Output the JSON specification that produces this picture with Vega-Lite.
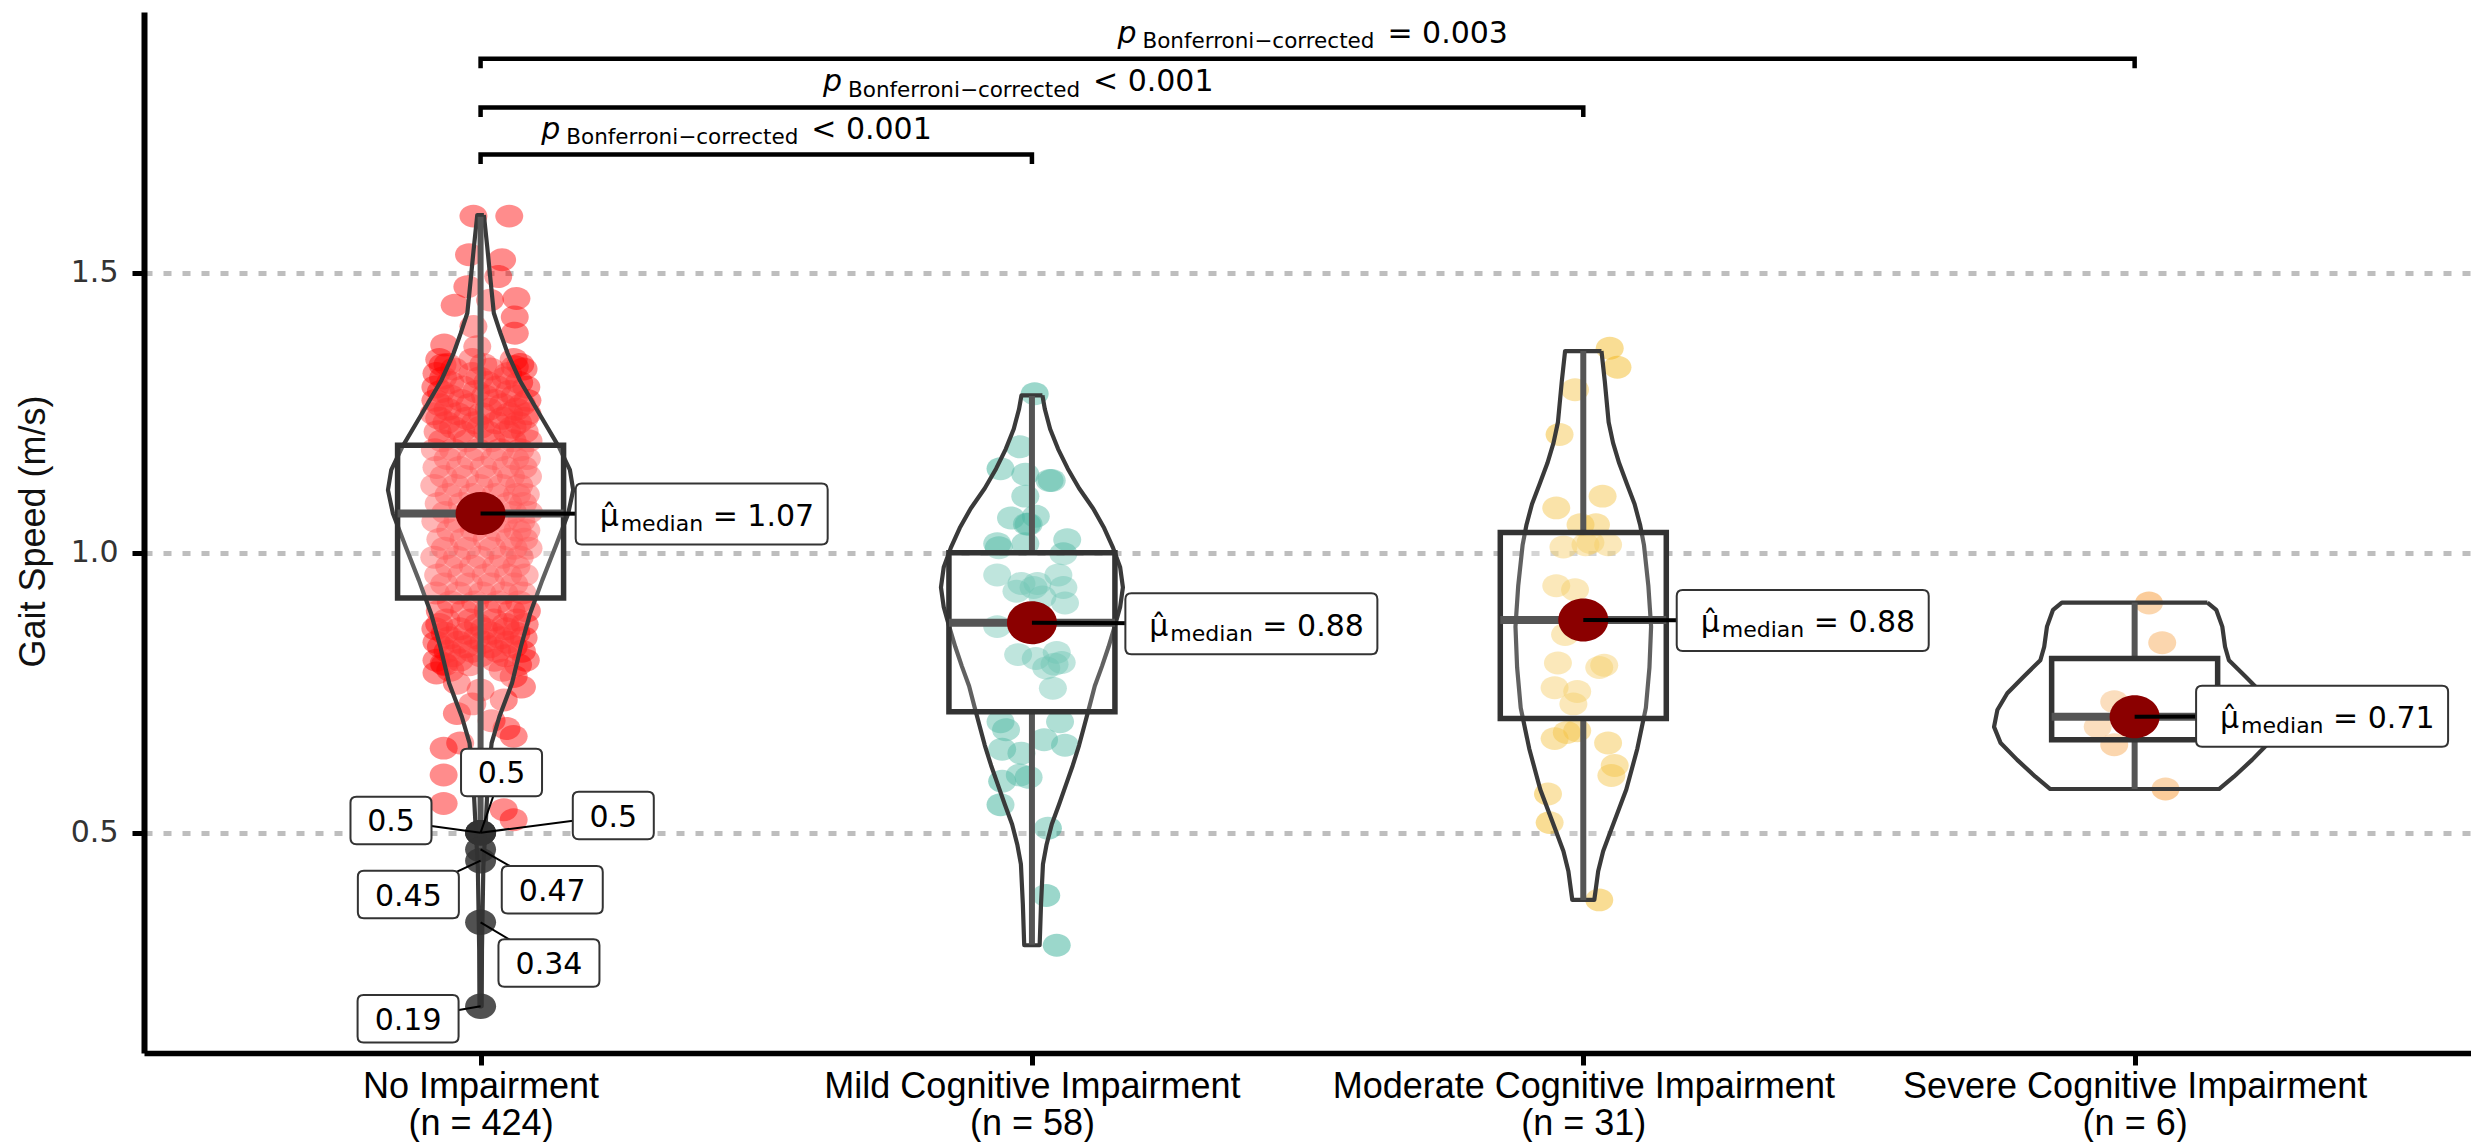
{
  "$schema": "https://vega.github.io/schema/vega-lite/v6.json",
  "width": 2327,
  "height": 1041,
  "autosize": {"type": "none"},
  "padding": {"left": 144, "top": 12, "right": 0, "bottom": 89},
  "background": "white",
  "config": {"view": {"stroke": null}, "font": "DejaVu Sans"},
  "datasets": {
    "pts": [
      {"g":1,"x":0.925,"y":1.345},{"g":1,"x":0.985,"y":1.345},{"g":1,"x":1.060,"y":1.345},
      {"g":1,"x":0.952,"y":1.328},{"g":1,"x":1.018,"y":1.328},{"g":1,"x":1.078,"y":1.328},
      {"g":1,"x":0.932,"y":1.312},{"g":1,"x":0.998,"y":1.312},{"g":1,"x":1.045,"y":1.312},
      {"g":1,"x":0.918,"y":1.296},{"g":1,"x":0.968,"y":1.296},{"g":1,"x":1.030,"y":1.296},{"g":1,"x":1.083,"y":1.296},
      {"g":1,"x":0.945,"y":1.280},{"g":1,"x":1.008,"y":1.280},{"g":1,"x":1.062,"y":1.280},
      {"g":1,"x":0.926,"y":1.264},{"g":1,"x":0.980,"y":1.264},{"g":1,"x":1.040,"y":1.264},{"g":1,"x":1.075,"y":1.264},
      {"g":1,"x":0.915,"y":1.248},{"g":1,"x":0.958,"y":1.248},{"g":1,"x":1.002,"y":1.248},{"g":1,"x":1.052,"y":1.248},{"g":1,"x":1.085,"y":1.248},
      {"g":1,"x":0.938,"y":1.232},{"g":1,"x":0.990,"y":1.232},{"g":1,"x":1.028,"y":1.232},{"g":1,"x":1.068,"y":1.232},
      {"g":1,"x":0.922,"y":1.216},{"g":1,"x":0.965,"y":1.216},{"g":1,"x":1.012,"y":1.216},{"g":1,"x":1.048,"y":1.216},{"g":1,"x":1.080,"y":1.216},
      {"g":1,"x":0.930,"y":1.200},{"g":1,"x":0.975,"y":1.200},{"g":1,"x":1.020,"y":1.200},{"g":1,"x":1.058,"y":1.200},{"g":1,"x":1.087,"y":1.200},
      {"g":1,"x":0.917,"y":1.184},{"g":1,"x":0.950,"y":1.184},{"g":1,"x":0.995,"y":1.184},{"g":1,"x":1.035,"y":1.184},{"g":1,"x":1.072,"y":1.184},
      {"g":1,"x":0.940,"y":1.168},{"g":1,"x":0.982,"y":1.168},{"g":1,"x":1.025,"y":1.168},{"g":1,"x":1.063,"y":1.168},{"g":1,"x":1.084,"y":1.168},
      {"g":1,"x":0.920,"y":1.152},{"g":1,"x":0.962,"y":1.152},{"g":1,"x":1.005,"y":1.152},{"g":1,"x":1.046,"y":1.152},{"g":1,"x":1.078,"y":1.152},
      {"g":1,"x":0.933,"y":1.136},{"g":1,"x":0.972,"y":1.136},{"g":1,"x":1.015,"y":1.136},{"g":1,"x":1.055,"y":1.136},{"g":1,"x":1.086,"y":1.136},
      {"g":1,"x":0.916,"y":1.120},{"g":1,"x":0.955,"y":1.120},{"g":1,"x":0.998,"y":1.120},{"g":1,"x":1.038,"y":1.120},{"g":1,"x":1.070,"y":1.120},
      {"g":1,"x":0.942,"y":1.104},{"g":1,"x":0.985,"y":1.104},{"g":1,"x":1.027,"y":1.104},{"g":1,"x":1.066,"y":1.104},{"g":1,"x":1.082,"y":1.104},
      {"g":1,"x":0.924,"y":1.088},{"g":1,"x":0.966,"y":1.088},{"g":1,"x":1.008,"y":1.088},{"g":1,"x":1.050,"y":1.088},{"g":1,"x":1.077,"y":1.088},
      {"g":1,"x":0.936,"y":1.072},{"g":1,"x":0.978,"y":1.072},{"g":1,"x":1.018,"y":1.072},{"g":1,"x":1.059,"y":1.072},{"g":1,"x":1.088,"y":1.072},
      {"g":1,"x":0.918,"y":1.056},{"g":1,"x":0.958,"y":1.056},{"g":1,"x":1.001,"y":1.056},{"g":1,"x":1.042,"y":1.056},{"g":1,"x":1.074,"y":1.056},
      {"g":1,"x":0.945,"y":1.040},{"g":1,"x":0.988,"y":1.040},{"g":1,"x":1.030,"y":1.040},{"g":1,"x":1.067,"y":1.040},{"g":1,"x":1.083,"y":1.040},
      {"g":1,"x":0.927,"y":1.024},{"g":1,"x":0.969,"y":1.024},{"g":1,"x":1.011,"y":1.024},{"g":1,"x":1.052,"y":1.024},{"g":1,"x":1.079,"y":1.024},
      {"g":1,"x":0.935,"y":1.008},{"g":1,"x":0.976,"y":1.008},{"g":1,"x":1.021,"y":1.008},{"g":1,"x":1.060,"y":1.008},{"g":1,"x":1.087,"y":1.008},
      {"g":1,"x":0.916,"y":0.992},{"g":1,"x":0.957,"y":0.992},{"g":1,"x":0.999,"y":0.992},{"g":1,"x":1.040,"y":0.992},{"g":1,"x":1.071,"y":0.992},
      {"g":1,"x":0.943,"y":0.976},{"g":1,"x":0.986,"y":0.976},{"g":1,"x":1.028,"y":0.976},{"g":1,"x":1.065,"y":0.976},
      {"g":1,"x":0.923,"y":0.960},{"g":1,"x":0.965,"y":0.960},{"g":1,"x":1.009,"y":0.960},{"g":1,"x":1.050,"y":0.960},{"g":1,"x":1.080,"y":0.960},
      {"g":1,"x":0.934,"y":0.944},{"g":1,"x":0.979,"y":0.944},{"g":1,"x":1.019,"y":0.944},{"g":1,"x":1.061,"y":0.944},
      {"g":1,"x":0.919,"y":0.928},{"g":1,"x":0.960,"y":0.928},{"g":1,"x":1.003,"y":0.928},{"g":1,"x":1.043,"y":0.928},{"g":1,"x":1.076,"y":0.928},
      {"g":1,"x":0.946,"y":0.912},{"g":1,"x":0.990,"y":0.912},{"g":1,"x":1.032,"y":0.912},{"g":1,"x":1.070,"y":0.912},
      {"g":1,"x":0.926,"y":0.896},{"g":1,"x":0.970,"y":0.896},{"g":1,"x":1.013,"y":0.896},{"g":1,"x":1.056,"y":0.896},{"g":1,"x":1.084,"y":0.896},
      {"g":1,"x":0.938,"y":0.880},{"g":1,"x":0.982,"y":0.880},{"g":1,"x":1.024,"y":0.880},{"g":1,"x":1.066,"y":0.880},
      {"g":1,"x":0.918,"y":0.864},{"g":1,"x":0.962,"y":0.864},{"g":1,"x":1.006,"y":0.864},{"g":1,"x":1.047,"y":0.864},
      {"g":1,"x":0.944,"y":0.848},{"g":1,"x":0.993,"y":0.848},{"g":1,"x":1.036,"y":0.848},{"g":1,"x":1.078,"y":0.848},
      {"g":1,"x":0.928,"y":0.832},{"g":1,"x":0.973,"y":0.832},{"g":1,"x":1.017,"y":0.832},{"g":1,"x":1.060,"y":0.832},
      {"g":1,"x":0.950,"y":0.816},{"g":1,"x":1.000,"y":0.816},{"g":1,"x":1.045,"y":0.816},
      {"g":1,"x":0.935,"y":0.800},{"g":1,"x":0.980,"y":0.800},{"g":1,"x":1.068,"y":0.800},
      {"g":1,"x":0.940,"y":1.336},{"g":1,"x":1.005,"y":1.336},{"g":1,"x":1.072,"y":1.336},
      {"g":1,"x":0.920,"y":1.320},{"g":1,"x":0.985,"y":1.320},{"g":1,"x":1.050,"y":1.320},
      {"g":1,"x":0.945,"y":1.304},{"g":1,"x":1.012,"y":1.304},{"g":1,"x":1.070,"y":1.304},
      {"g":1,"x":0.928,"y":1.288},{"g":1,"x":0.992,"y":1.288},{"g":1,"x":1.052,"y":1.288},
      {"g":1,"x":0.918,"y":1.272},{"g":1,"x":0.965,"y":1.272},{"g":1,"x":1.025,"y":1.272},{"g":1,"x":1.085,"y":1.272},
      {"g":1,"x":0.940,"y":1.256},{"g":1,"x":1.015,"y":1.256},{"g":1,"x":1.065,"y":1.256},
      {"g":1,"x":0.925,"y":1.240},{"g":1,"x":0.975,"y":1.240},{"g":1,"x":1.040,"y":1.240},{"g":1,"x":1.080,"y":1.240},
      {"g":1,"x":0.950,"y":1.224},{"g":1,"x":1.000,"y":1.224},{"g":1,"x":1.058,"y":1.224},
      {"g":1,"x":0.925,"y":0.872},{"g":1,"x":0.995,"y":0.872},{"g":1,"x":1.045,"y":0.872},{"g":1,"x":1.080,"y":0.872},
      {"g":1,"x":0.935,"y":0.856},{"g":1,"x":0.975,"y":0.856},{"g":1,"x":1.020,"y":0.856},{"g":1,"x":1.065,"y":0.856},
      {"g":1,"x":0.920,"y":0.840},{"g":1,"x":0.960,"y":0.840},{"g":1,"x":1.005,"y":0.840},{"g":1,"x":1.050,"y":0.840},
      {"g":1,"x":0.940,"y":0.824},{"g":1,"x":0.985,"y":0.824},{"g":1,"x":1.030,"y":0.824},{"g":1,"x":1.075,"y":0.824},
      {"g":1,"x":0.920,"y":0.808},{"g":1,"x":0.962,"y":0.808},{"g":1,"x":1.025,"y":0.808},{"g":1,"x":1.082,"y":0.808},
      {"g":1,"x":0.945,"y":0.790},{"g":1,"x":1.040,"y":0.790},
      {"g":1,"x":0.987,"y":1.601},{"g":1,"x":1.052,"y":1.601},{"g":1,"x":0.979,"y":1.532},{"g":1,"x":1.039,"y":1.523},
      {"g":1,"x":0.976,"y":1.475},{"g":1,"x":1.032,"y":1.493},{"g":1,"x":0.953,"y":1.442},{"g":1,"x":1.017,"y":1.451},
      {"g":1,"x":1.065,"y":1.454},{"g":1,"x":1.062,"y":1.421},{"g":1,"x":1.062,"y":1.392},{"g":1,"x":0.934,"y":1.371},
      {"g":1,"x":0.987,"y":1.404},{"g":1,"x":0.931,"y":1.335},{"g":1,"x":1.062,"y":1.332},{"g":1,"x":0.994,"y":1.368},
      {"g":1,"x":0.933,"y":0.802},{"g":1,"x":0.957,"y":0.713},{"g":1,"x":1.060,"y":0.672},{"g":1,"x":0.933,"y":0.651},
      {"g":1,"x":0.963,"y":0.660},{"g":1,"x":0.933,"y":0.603},{"g":1,"x":0.933,"y":0.552},{"g":1,"x":1.042,"y":0.541},
      {"g":1,"x":1.060,"y":0.523},{"g":1,"x":1.047,"y":0.686},{"g":1,"x":1.042,"y":0.737},{"g":1,"x":1.000,"y":0.755},
      {"g":1,"x":1.060,"y":0.779},{"g":1,"x":0.957,"y":0.767},{"g":1,"x":0.920,"y":0.785},{"g":1,"x":1.075,"y":0.760},
      {"g":1,"x":0.985,"y":0.730},{"g":1,"x":1.020,"y":0.700},
      {"g":2,"x":2.005,"y":1.284},{"g":2,"x":1.978,"y":1.189},{"g":2,"x":1.943,"y":1.150},{"g":2,"x":1.988,"y":1.140},
      {"g":2,"x":2.036,"y":1.129},{"g":2,"x":1.988,"y":1.101},{"g":2,"x":1.962,"y":1.062},{"g":2,"x":1.991,"y":1.051},
      {"g":2,"x":2.064,"y":1.023},{"g":2,"x":1.940,"y":1.009},{"g":2,"x":1.988,"y":1.016},{"g":2,"x":2.057,"y":0.998},
      {"g":2,"x":1.937,"y":0.960},{"g":2,"x":2.048,"y":0.960},{"g":2,"x":1.972,"y":0.931},{"g":2,"x":2.003,"y":0.938},
      {"g":2,"x":2.057,"y":0.938},{"g":2,"x":2.019,"y":0.921},{"g":2,"x":2.060,"y":0.910},{"g":2,"x":1.937,"y":0.868},
      {"g":2,"x":1.975,"y":0.818},{"g":2,"x":2.007,"y":0.811},{"g":2,"x":2.041,"y":0.801},{"g":2,"x":2.026,"y":0.794},
      {"g":2,"x":2.038,"y":0.758},{"g":2,"x":1.943,"y":0.698},{"g":2,"x":2.051,"y":0.698},{"g":2,"x":2.022,"y":0.666},
      {"g":2,"x":1.946,"y":0.649},{"g":2,"x":2.060,"y":0.656},{"g":2,"x":1.981,"y":0.642},{"g":2,"x":1.946,"y":0.592},
      {"g":2,"x":1.994,"y":0.599},{"g":2,"x":1.943,"y":0.550},{"g":2,"x":2.029,"y":0.508},{"g":2,"x":2.026,"y":0.388},
      {"g":2,"x":2.045,"y":0.299},{"g":2,"x":1.994,"y":1.051},{"g":2,"x":2.054,"y":0.804},{"g":2,"x":1.953,"y":0.684},
      {"g":2,"x":1.978,"y":0.603},{"g":2,"x":2.010,"y":0.945},{"g":2,"x":1.981,"y":0.945},{"g":2,"x":1.937,"y":1.016},
      {"g":2,"x":2.032,"y":1.129},{"g":2,"x":2.045,"y":0.822},{"g":2,"x":2.007,"y":1.065},
      {"g":3,"x":3.048,"y":1.365},{"g":3,"x":3.062,"y":1.331},{"g":3,"x":2.985,"y":1.291},{"g":3,"x":2.957,"y":1.211},
      {"g":3,"x":3.035,"y":1.101},{"g":3,"x":2.951,"y":1.080},{"g":3,"x":2.995,"y":1.050},{"g":3,"x":3.023,"y":1.050},
      {"g":3,"x":2.964,"y":1.010},{"g":3,"x":3.013,"y":1.018},{"g":3,"x":3.045,"y":1.014},{"g":3,"x":2.951,"y":0.941},
      {"g":3,"x":2.985,"y":0.934},{"g":3,"x":2.967,"y":0.854},{"g":3,"x":2.954,"y":0.803},{"g":3,"x":3.029,"y":0.795},
      {"g":3,"x":2.948,"y":0.759},{"g":3,"x":2.989,"y":0.752},{"g":3,"x":2.982,"y":0.730},{"g":3,"x":2.970,"y":0.679},
      {"g":3,"x":2.948,"y":0.668},{"g":3,"x":3.045,"y":0.660},{"g":3,"x":3.057,"y":0.620},{"g":3,"x":3.051,"y":0.602},
      {"g":3,"x":2.936,"y":0.569},{"g":3,"x":2.939,"y":0.518},{"g":3,"x":3.029,"y":0.380},{"g":3,"x":3.004,"y":1.014},
      {"g":3,"x":3.038,"y":0.799},{"g":3,"x":2.989,"y":0.682},
      {"g":4,"x":4.026,"y":0.910},{"g":4,"x":4.050,"y":0.839},{"g":4,"x":3.963,"y":0.734},{"g":4,"x":3.933,"y":0.689},
      {"g":4,"x":3.963,"y":0.657},{"g":4,"x":4.056,"y":0.578}
    ],
    "violin": [
      {"g":1,"o":1,"x":1.006,"y":1.603},{"g":1,"o":2,"x":1.012,"y":1.547},{"g":1,"o":3,"x":1.018,"y":1.487},{"g":1,"o":4,"x":1.024,"y":1.428},
      {"g":1,"o":5,"x":1.036,"y":1.392},{"g":1,"o":6,"x":1.049,"y":1.356},{"g":1,"o":7,"x":1.071,"y":1.308},{"g":1,"o":8,"x":1.106,"y":1.249},
      {"g":1,"o":9,"x":1.142,"y":1.189},{"g":1,"o":10,"x":1.162,"y":1.148},{"g":1,"o":11,"x":1.168,"y":1.112},{"g":1,"o":12,"x":1.159,"y":1.070},
      {"g":1,"o":13,"x":1.136,"y":1.011},{"g":1,"o":14,"x":1.112,"y":0.951},{"g":1,"o":15,"x":1.090,"y":0.892},{"g":1,"o":16,"x":1.073,"y":0.832},
      {"g":1,"o":17,"x":1.057,"y":0.767},{"g":1,"o":18,"x":1.034,"y":0.707},{"g":1,"o":19,"x":1.020,"y":0.660},{"g":1,"o":20,"x":1.013,"y":0.588},
      {"g":1,"o":21,"x":1.010,"y":0.529},{"g":1,"o":22,"x":1.005,"y":0.439},{"g":1,"o":23,"x":1.0025,"y":0.290},{"g":1,"o":24,"x":1.002,"y":0.190},
      {"g":1,"o":25,"x":0.998,"y":0.190},{"g":1,"o":26,"x":0.9975,"y":0.290},{"g":1,"o":27,"x":0.995,"y":0.439},{"g":1,"o":28,"x":0.990,"y":0.529},
      {"g":1,"o":29,"x":0.987,"y":0.588},{"g":1,"o":30,"x":0.980,"y":0.660},{"g":1,"o":31,"x":0.966,"y":0.707},{"g":1,"o":32,"x":0.943,"y":0.767},
      {"g":1,"o":33,"x":0.927,"y":0.832},{"g":1,"o":34,"x":0.910,"y":0.892},{"g":1,"o":35,"x":0.888,"y":0.951},{"g":1,"o":36,"x":0.864,"y":1.011},
      {"g":1,"o":37,"x":0.841,"y":1.070},{"g":1,"o":38,"x":0.832,"y":1.112},{"g":1,"o":39,"x":0.838,"y":1.148},{"g":1,"o":40,"x":0.858,"y":1.189},
      {"g":1,"o":41,"x":0.894,"y":1.249},{"g":1,"o":42,"x":0.929,"y":1.308},{"g":1,"o":43,"x":0.951,"y":1.356},{"g":1,"o":44,"x":0.964,"y":1.392},
      {"g":1,"o":45,"x":0.976,"y":1.428},{"g":1,"o":46,"x":0.982,"y":1.487},{"g":1,"o":47,"x":0.988,"y":1.547},{"g":1,"o":48,"x":0.994,"y":1.603},
      {"g":1,"o":49,"x":1.006,"y":1.603},
      {"g":2,"o":1,"x":2.019,"y":1.281},{"g":2,"o":2,"x":2.0235,"y":1.256},{"g":2,"o":3,"x":2.033,"y":1.221},{"g":2,"o":4,"x":2.0475,"y":1.185},
      {"g":2,"o":5,"x":2.065,"y":1.150},{"g":2,"o":6,"x":2.0855,"y":1.115},{"g":2,"o":7,"x":2.111,"y":1.079},{"g":2,"o":8,"x":2.131,"y":1.044},
      {"g":2,"o":9,"x":2.147,"y":1.009},{"g":2,"o":10,"x":2.160,"y":0.974},{"g":2,"o":11,"x":2.165,"y":0.938},{"g":2,"o":12,"x":2.160,"y":0.903},
      {"g":2,"o":13,"x":2.150,"y":0.868},{"g":2,"o":14,"x":2.139,"y":0.832},{"g":2,"o":15,"x":2.127,"y":0.797},{"g":2,"o":16,"x":2.114,"y":0.762},
      {"g":2,"o":17,"x":2.1045,"y":0.726},{"g":2,"o":18,"x":2.095,"y":0.691},{"g":2,"o":19,"x":2.0855,"y":0.656},{"g":2,"o":20,"x":2.074,"y":0.620},
      {"g":2,"o":21,"x":2.0615,"y":0.585},{"g":2,"o":22,"x":2.049,"y":0.550},{"g":2,"o":23,"x":2.036,"y":0.515},{"g":2,"o":24,"x":2.0266,"y":0.479},
      {"g":2,"o":25,"x":2.020,"y":0.444},{"g":2,"o":26,"x":2.0165,"y":0.373},{"g":2,"o":27,"x":2.014,"y":0.299},
      {"g":2,"o":28,"x":1.986,"y":0.299},{"g":2,"o":29,"x":1.9835,"y":0.373},{"g":2,"o":30,"x":1.980,"y":0.444},{"g":2,"o":31,"x":1.9734,"y":0.479},
      {"g":2,"o":32,"x":1.964,"y":0.515},{"g":2,"o":33,"x":1.951,"y":0.550},{"g":2,"o":34,"x":1.9385,"y":0.585},{"g":2,"o":35,"x":1.926,"y":0.620},
      {"g":2,"o":36,"x":1.9145,"y":0.656},{"g":2,"o":37,"x":1.905,"y":0.691},{"g":2,"o":38,"x":1.8955,"y":0.726},{"g":2,"o":39,"x":1.886,"y":0.762},
      {"g":2,"o":40,"x":1.873,"y":0.797},{"g":2,"o":41,"x":1.861,"y":0.832},{"g":2,"o":42,"x":1.850,"y":0.868},{"g":2,"o":43,"x":1.840,"y":0.903},
      {"g":2,"o":44,"x":1.835,"y":0.938},{"g":2,"o":45,"x":1.840,"y":0.974},{"g":2,"o":46,"x":1.853,"y":1.009},{"g":2,"o":47,"x":1.869,"y":1.044},
      {"g":2,"o":48,"x":1.889,"y":1.079},{"g":2,"o":49,"x":1.9145,"y":1.115},{"g":2,"o":50,"x":1.935,"y":1.150},{"g":2,"o":51,"x":1.9525,"y":1.185},
      {"g":2,"o":52,"x":1.967,"y":1.221},{"g":2,"o":53,"x":1.9765,"y":1.256},{"g":2,"o":54,"x":1.981,"y":1.281},{"g":2,"o":55,"x":2.019,"y":1.281},
      {"g":3,"o":1,"x":3.033,"y":1.360},{"g":3,"o":2,"x":3.039,"y":1.306},{"g":3,"o":3,"x":3.046,"y":1.233},{"g":3,"o":4,"x":3.054,"y":1.196},
      {"g":3,"o":5,"x":3.065,"y":1.160},{"g":3,"o":6,"x":3.079,"y":1.123},{"g":3,"o":7,"x":3.093,"y":1.087},{"g":3,"o":8,"x":3.103,"y":1.050},
      {"g":3,"o":9,"x":3.110,"y":1.014},{"g":3,"o":10,"x":3.118,"y":0.941},{"g":3,"o":11,"x":3.123,"y":0.868},{"g":3,"o":12,"x":3.120,"y":0.795},
      {"g":3,"o":13,"x":3.1135,"y":0.723},{"g":3,"o":14,"x":3.098,"y":0.650},{"g":3,"o":15,"x":3.078,"y":0.577},{"g":3,"o":16,"x":3.050,"y":0.504},
      {"g":3,"o":17,"x":3.036,"y":0.467},{"g":3,"o":18,"x":3.027,"y":0.431},{"g":3,"o":19,"x":3.020,"y":0.380},
      {"g":3,"o":20,"x":2.980,"y":0.380},{"g":3,"o":21,"x":2.973,"y":0.431},{"g":3,"o":22,"x":2.964,"y":0.467},{"g":3,"o":23,"x":2.950,"y":0.504},
      {"g":3,"o":24,"x":2.922,"y":0.577},{"g":3,"o":25,"x":2.902,"y":0.650},{"g":3,"o":26,"x":2.8865,"y":0.723},{"g":3,"o":27,"x":2.880,"y":0.795},
      {"g":3,"o":28,"x":2.877,"y":0.868},{"g":3,"o":29,"x":2.882,"y":0.941},{"g":3,"o":30,"x":2.890,"y":1.014},{"g":3,"o":31,"x":2.897,"y":1.050},
      {"g":3,"o":32,"x":2.907,"y":1.087},{"g":3,"o":33,"x":2.921,"y":1.123},{"g":3,"o":34,"x":2.935,"y":1.160},{"g":3,"o":35,"x":2.946,"y":1.196},
      {"g":3,"o":36,"x":2.954,"y":1.233},{"g":3,"o":37,"x":2.961,"y":1.306},{"g":3,"o":38,"x":2.967,"y":1.360},{"g":3,"o":39,"x":3.033,"y":1.360},
      {"g":4,"o":1,"x":4.132,"y":0.911},{"g":4,"o":2,"x":4.148,"y":0.898},{"g":4,"o":3,"x":4.159,"y":0.868},{"g":4,"o":4,"x":4.164,"y":0.832},
      {"g":4,"o":5,"x":4.171,"y":0.808},{"g":4,"o":6,"x":4.201,"y":0.779},{"g":4,"o":7,"x":4.231,"y":0.749},{"g":4,"o":8,"x":4.249,"y":0.719},
      {"g":4,"o":9,"x":4.255,"y":0.689},{"g":4,"o":10,"x":4.243,"y":0.660},{"g":4,"o":11,"x":4.213,"y":0.630},{"g":4,"o":12,"x":4.180,"y":0.600},
      {"g":4,"o":13,"x":4.153,"y":0.578},
      {"g":4,"o":14,"x":3.847,"y":0.578},{"g":4,"o":15,"x":3.820,"y":0.600},{"g":4,"o":16,"x":3.787,"y":0.630},{"g":4,"o":17,"x":3.757,"y":0.660},
      {"g":4,"o":18,"x":3.745,"y":0.689},{"g":4,"o":19,"x":3.751,"y":0.719},{"g":4,"o":20,"x":3.769,"y":0.749},{"g":4,"o":21,"x":3.799,"y":0.779},
      {"g":4,"o":22,"x":3.829,"y":0.808},{"g":4,"o":23,"x":3.836,"y":0.832},{"g":4,"o":24,"x":3.841,"y":0.868},{"g":4,"o":25,"x":3.852,"y":0.898},
      {"g":4,"o":26,"x":3.868,"y":0.911},{"g":4,"o":27,"x":4.132,"y":0.911}
    ],
    "box": [
      {"g":1,"lower":0.52,"q1":0.919,"med":1.07,"q3":1.192,"upper":1.60},
      {"g":2,"lower":0.30,"q1":0.716,"med":0.875,"q3":1.000,"upper":1.28},
      {"g":3,"lower":0.38,"q1":0.704,"med":0.88,"q3":1.036,"upper":1.36},
      {"g":4,"lower":0.578,"q1":0.666,"med":0.707,"q3":0.811,"upper":0.911}
    ],
    "out": [
      {"g":1,"y":0.50,"lx":1.038,"ly":0.6075,"lab":"0.5"},
      {"g":1,"y":0.50,"lx":0.8375,"ly":0.5218,"lab":"0.5"},
      {"g":1,"y":0.50,"lx":1.2407,"ly":0.5307,"lab":"0.5"},
      {"g":1,"y":0.45,"lx":0.869,"ly":0.3896,"lab":"0.45"},
      {"g":1,"y":0.47,"lx":1.130,"ly":0.398,"lab":"0.47"},
      {"g":1,"y":0.34,"lx":1.124,"ly":0.2673,"lab":"0.34"},
      {"g":1,"y":0.19,"lx":0.8685,"ly":0.1677,"lab":"0.19"}
    ],
    "med": [
      {"g":1,"med":1.07,"lx":1.401,"ly":1.069,"val":"= 1.07"},
      {"g":2,"med":0.875,"lx":2.398,"ly":0.873,"val":"= 0.88"},
      {"g":3,"med":0.88,"lx":3.398,"ly":0.879,"val":"= 0.88"},
      {"g":4,"med":0.707,"lx":4.340,"ly":0.708,"val":"= 0.71"}
    ],
    "brk": [
      {"b":1,"o":1,"x":1,"y":1.694},{"b":1,"o":2,"x":1,"y":1.711},{"b":1,"o":3,"x":2,"y":1.711},{"b":1,"o":4,"x":2,"y":1.694},
      {"b":2,"o":1,"x":1,"y":1.778},{"b":2,"o":2,"x":1,"y":1.795},{"b":2,"o":3,"x":3,"y":1.795},{"b":2,"o":4,"x":3,"y":1.778},
      {"b":3,"o":1,"x":1,"y":1.865},{"b":3,"o":2,"x":1,"y":1.882},{"b":3,"o":3,"x":4,"y":1.882},{"b":3,"o":4,"x":4,"y":1.865}
    ],
    "bt": [
      {"tx":1.110,"y":1.711,"rest":"< 0.001"},
      {"tx":1.621,"y":1.795,"rest":"< 0.001"},
      {"tx":2.155,"y":1.882,"rest":"= 0.003"}
    ]
  },
  "layer": [
    {
      "data": {"name": "pts"},
      "mark": {"type": "point", "filled": true, "shape": "M1,0C1,0.453,0.552,0.82,0,0.82C-0.552,0.82,-1,0.453,-1,0C-1,-0.453,-0.552,-0.82,0,-0.82C0.552,-0.82,1,-0.453,1,0Z", "size": 784, "opacity": 0.45, "strokeWidth": 0},
      "encoding": {
        "x": {"field": "x", "type": "quantitative", "scale": {"domain": [0.3986, 4.601], "nice": false, "zero": false},
          "axis": {"values": [1, 2, 3, 4], "title": null, "grid": false,
            "labelExpr": "datum.value == 1 ? ['No Impairment', '(n = 424)'] : datum.value == 2 ? ['Mild Cognitive Impairment', '(n = 58)'] : datum.value == 3 ? ['Moderate Cognitive Impairment', '(n = 31)'] : ['Severe Cognitive Impairment', '(n = 6)']",
            "labelFont": "Liberation Sans", "labelFontSize": 36, "labelColor": "#000000", "labelLineHeight": 37, "labelLimit": 0,
            "labelBaseline": "alphabetic", "labelPadding": 32, "labelAngle": 0, "labelFlush": false, "labelOverlap": false, "labelBound": false,
            "tickSize": 12, "tickWidth": 5, "tickColor": "#000000", "domainColor": "#000000", "domainWidth": 5.5}},
        "y": {"field": "y", "type": "quantitative", "scale": {"domain": [0.1066, 1.9655], "nice": false, "zero": false},
          "axis": {"values": [0.5, 1.0, 1.5], "format": ".1f", "title": "Gait Speed (m/s)",
            "grid": true, "gridColor": "#BEBEBE", "gridDash": [8, 11], "gridWidth": 5,
            "labelFont": "DejaVu Sans", "labelFontSize": 30, "labelColor": "#333333", "labelPadding": 14,
            "tickSize": 12, "tickWidth": 5, "tickColor": "#000000", "domainColor": "#000000", "domainWidth": 6,
            "titleFont": "Liberation Sans", "titleFontSize": 36, "titleFontWeight": "normal", "titleColor": "#111111",
            "titleX": -100, "titleY": 519, "titleAngle": -90, "titleAlign": "center", "titleBaseline": "alphabetic"}},
        "color": {"field": "g", "type": "nominal", "scale": {"domain": [1, 2, 3, 4], "range": ["#FF0000", "#21A78C", "#F2B411", "#F78E1E"]}, "legend": null}
      }
    },
    {
      "data": {"name": "violin"},
      "mark": {"type": "line", "interpolate": "linear", "fill": "white", "fillOpacity": 0.2, "stroke": "#3a3a3a", "strokeWidth": 4.2, "strokeJoin": "round", "opacity": 1},
      "encoding": {
        "x": {"field": "x", "type": "quantitative", "scale": {"domain": [0.3986, 4.601], "nice": false, "zero": false}},
        "y": {"field": "y", "type": "quantitative", "scale": {"domain": [0.1066, 1.9655], "nice": false, "zero": false}},
        "detail": {"field": "g"},
        "order": {"field": "o", "type": "quantitative"}
      }
    },
    {
      "data": {"name": "box"},
      "mark": {"type": "rule", "color": "#555555", "strokeWidth": 6},
      "encoding": {
        "x": {"field": "g", "type": "quantitative", "scale": {"domain": [0.3986, 4.601], "nice": false, "zero": false}},
        "y": {"field": "q3", "type": "quantitative", "scale": {"domain": [0.1066, 1.9655], "nice": false, "zero": false}},
        "y2": {"field": "upper"}
      }
    },
    {
      "data": {"name": "box"},
      "mark": {"type": "rule", "color": "#555555", "strokeWidth": 6},
      "encoding": {
        "x": {"field": "g", "type": "quantitative", "scale": {"domain": [0.3986, 4.601], "nice": false, "zero": false}},
        "y": {"field": "lower", "type": "quantitative", "scale": {"domain": [0.1066, 1.9655], "nice": false, "zero": false}},
        "y2": {"field": "q1"}
      }
    },
    {
      "data": {"name": "box"},
      "mark": {"type": "bar", "width": 166, "fill": "white", "fillOpacity": 0.2, "stroke": "#333333", "strokeWidth": 5.5, "opacity": 1},
      "encoding": {
        "x": {"field": "g", "type": "quantitative", "scale": {"domain": [0.3986, 4.601], "nice": false, "zero": false}},
        "y": {"field": "q1", "type": "quantitative", "scale": {"domain": [0.1066, 1.9655], "nice": false, "zero": false}},
        "y2": {"field": "q3"}
      }
    },
    {
      "data": {"name": "box"},
      "mark": {"type": "tick", "orient": "horizontal", "size": 166, "thickness": 8, "color": "#555555", "opacity": 1},
      "encoding": {
        "x": {"field": "g", "type": "quantitative", "scale": {"domain": [0.3986, 4.601], "nice": false, "zero": false}},
        "y": {"field": "med", "type": "quantitative", "scale": {"domain": [0.1066, 1.9655], "nice": false, "zero": false}}
      }
    },
    {
      "data": {"name": "out"},
      "mark": {"type": "point", "filled": true, "shape": "M1,0C1,0.453,0.552,0.82,0,0.82C-0.552,0.82,-1,0.453,-1,0C-1,-0.453,-0.552,-0.82,0,-0.82C0.552,-0.82,1,-0.453,1,0Z", "size": 961, "color": "#333333", "opacity": 0.85, "strokeWidth": 0},
      "encoding": {
        "x": {"field": "g", "type": "quantitative", "scale": {"domain": [0.3986, 4.601], "nice": false, "zero": false}},
        "y": {"field": "y", "type": "quantitative", "scale": {"domain": [0.1066, 1.9655], "nice": false, "zero": false}}
      }
    },
    {
      "data": {"name": "out"},
      "mark": {"type": "rule", "color": "#000000", "strokeWidth": 2},
      "encoding": {
        "x": {"field": "g", "type": "quantitative", "scale": {"domain": [0.3986, 4.601], "nice": false, "zero": false}},
        "y": {"field": "y", "type": "quantitative", "scale": {"domain": [0.1066, 1.9655], "nice": false, "zero": false}},
        "x2": {"field": "lx"},
        "y2": {"field": "ly"}
      }
    },
    {
      "data": {"name": "out"},
      "mark": {"type": "point", "filled": true, "fill": "white", "stroke": "#333333", "strokeWidth": 2, "opacity": 1, "fillOpacity": 1},
      "encoding": {
        "x": {"field": "lx", "type": "quantitative", "scale": {"domain": [0.3986, 4.601], "nice": false, "zero": false}},
        "y": {"field": "ly", "type": "quantitative", "scale": {"domain": [0.1066, 1.9655], "nice": false, "zero": false}},
        "shape": {"condition": {"test": "length(datum.lab) <= 3", "value": "M-0.852,-0.586H0.852Q1,-0.586,1,-0.438V0.438Q1,0.586,0.852,0.586H-0.852Q-1,0.586,-1,0.438V-0.438Q-1,-0.586,-0.852,-0.586Z"}, "value": "M-0.881,-0.47H0.881Q1,-0.47,1,-0.351V0.351Q1,0.47,0.881,0.47H-0.881Q-1,0.47,-1,0.351V-0.351Q-1,-0.47,-0.881,-0.47Z"},
        "size": {"condition": {"test": "length(datum.lab) <= 3", "value": 6561}, "value": 10201}
      }
    },
    {
      "data": {"name": "out"},
      "mark": {"type": "text", "font": "DejaVu Sans", "fontSize": 30, "align": "center", "baseline": "alphabetic", "dy": 11, "color": "#000000"},
      "encoding": {
        "x": {"field": "lx", "type": "quantitative", "scale": {"domain": [0.3986, 4.601], "nice": false, "zero": false}},
        "y": {"field": "ly", "type": "quantitative", "scale": {"domain": [0.1066, 1.9655], "nice": false, "zero": false}},
        "text": {"field": "lab"}
      }
    },
    {
      "data": {"name": "med"},
      "mark": {"type": "point", "filled": true, "shape": "M1,0C1,0.475,0.552,0.86,0,0.86C-0.552,0.86,-1,0.475,-1,0C-1,-0.475,-0.552,-0.86,0,-0.86C0.552,-0.86,1,-0.475,1,0Z", "size": 2500, "color": "#8B0000", "opacity": 1, "strokeWidth": 0},
      "encoding": {
        "x": {"field": "g", "type": "quantitative", "scale": {"domain": [0.3986, 4.601], "nice": false, "zero": false}},
        "y": {"field": "med", "type": "quantitative", "scale": {"domain": [0.1066, 1.9655], "nice": false, "zero": false}}
      }
    },
    {
      "data": {"name": "med"},
      "mark": {"type": "rule", "color": "#000000", "strokeWidth": 4},
      "encoding": {
        "x": {"field": "g", "type": "quantitative", "scale": {"domain": [0.3986, 4.601], "nice": false, "zero": false}},
        "y": {"field": "med", "type": "quantitative", "scale": {"domain": [0.1066, 1.9655], "nice": false, "zero": false}},
        "x2": {"field": "lx"},
        "y2": {"field": "ly"}
      }
    },
    {
      "data": {"name": "med"},
      "mark": {"type": "point", "filled": true, "fill": "white", "stroke": "#333333", "strokeWidth": 2, "opacity": 1, "fillOpacity": 1, "size": 63504, "shape": "M-0.952,-0.242H0.952Q1,-0.242,1,-0.194V0.194Q1,0.242,0.952,0.242H-0.952Q-1,0.242,-1,0.194V-0.194Q-1,-0.242,-0.952,-0.242Z"},
      "encoding": {
        "x": {"field": "lx", "type": "quantitative", "scale": {"domain": [0.3986, 4.601], "nice": false, "zero": false}},
        "y": {"field": "ly", "type": "quantitative", "scale": {"domain": [0.1066, 1.9655], "nice": false, "zero": false}}
      }
    },
    {
      "data": {"name": "med"},
      "mark": {"type": "text", "font": "DejaVu Sans", "fontSize": 30, "align": "left", "baseline": "alphabetic", "dx": -102, "dy": 12, "color": "#000000"},
      "encoding": {
        "x": {"field": "lx", "type": "quantitative", "scale": {"domain": [0.3986, 4.601], "nice": false, "zero": false}},
        "y": {"field": "ly", "type": "quantitative", "scale": {"domain": [0.1066, 1.9655], "nice": false, "zero": false}},
        "text": {"value": "μ̂"}
      }
    },
    {
      "data": {"name": "med"},
      "mark": {"type": "text", "font": "DejaVu Sans", "fontSize": 22, "align": "left", "baseline": "alphabetic", "dx": -81, "dy": 17, "color": "#000000"},
      "encoding": {
        "x": {"field": "lx", "type": "quantitative", "scale": {"domain": [0.3986, 4.601], "nice": false, "zero": false}},
        "y": {"field": "ly", "type": "quantitative", "scale": {"domain": [0.1066, 1.9655], "nice": false, "zero": false}},
        "text": {"value": "median"}
      }
    },
    {
      "data": {"name": "med"},
      "mark": {"type": "text", "font": "DejaVu Sans", "fontSize": 30, "align": "left", "baseline": "alphabetic", "dx": 11, "dy": 12, "color": "#000000"},
      "encoding": {
        "x": {"field": "lx", "type": "quantitative", "scale": {"domain": [0.3986, 4.601], "nice": false, "zero": false}},
        "y": {"field": "ly", "type": "quantitative", "scale": {"domain": [0.1066, 1.9655], "nice": false, "zero": false}},
        "text": {"field": "val"}
      }
    },
    {
      "data": {"name": "brk"},
      "mark": {"type": "line", "color": "#000000", "strokeWidth": 4.5, "strokeJoin": "miter", "strokeCap": "butt"},
      "encoding": {
        "x": {"field": "x", "type": "quantitative", "scale": {"domain": [0.3986, 4.601], "nice": false, "zero": false}},
        "y": {"field": "y", "type": "quantitative", "scale": {"domain": [0.1066, 1.9655], "nice": false, "zero": false}},
        "detail": {"field": "b"},
        "order": {"field": "o", "type": "quantitative"}
      }
    },
    {
      "data": {"name": "bt"},
      "mark": {"type": "text", "font": "DejaVu Sans", "fontStyle": "italic", "fontSize": 30, "align": "left", "baseline": "alphabetic", "dy": -16, "color": "#000000"},
      "encoding": {
        "x": {"field": "tx", "type": "quantitative", "scale": {"domain": [0.3986, 4.601], "nice": false, "zero": false}},
        "y": {"field": "y", "type": "quantitative", "scale": {"domain": [0.1066, 1.9655], "nice": false, "zero": false}},
        "text": {"value": "p"}
      }
    },
    {
      "data": {"name": "bt"},
      "mark": {"type": "text", "font": "DejaVu Sans", "fontSize": 21.5, "align": "left", "baseline": "alphabetic", "dx": 25, "dy": -10.5, "color": "#000000"},
      "encoding": {
        "x": {"field": "tx", "type": "quantitative", "scale": {"domain": [0.3986, 4.601], "nice": false, "zero": false}},
        "y": {"field": "y", "type": "quantitative", "scale": {"domain": [0.1066, 1.9655], "nice": false, "zero": false}},
        "text": {"value": "Bonferroni−corrected"}
      }
    },
    {
      "data": {"name": "bt"},
      "mark": {"type": "text", "font": "DejaVu Sans", "fontSize": 30, "align": "left", "baseline": "alphabetic", "dx": 270, "dy": -16, "color": "#000000"},
      "encoding": {
        "x": {"field": "tx", "type": "quantitative", "scale": {"domain": [0.3986, 4.601], "nice": false, "zero": false}},
        "y": {"field": "y", "type": "quantitative", "scale": {"domain": [0.1066, 1.9655], "nice": false, "zero": false}},
        "text": {"field": "rest"}
      }
    }
  ]
}
